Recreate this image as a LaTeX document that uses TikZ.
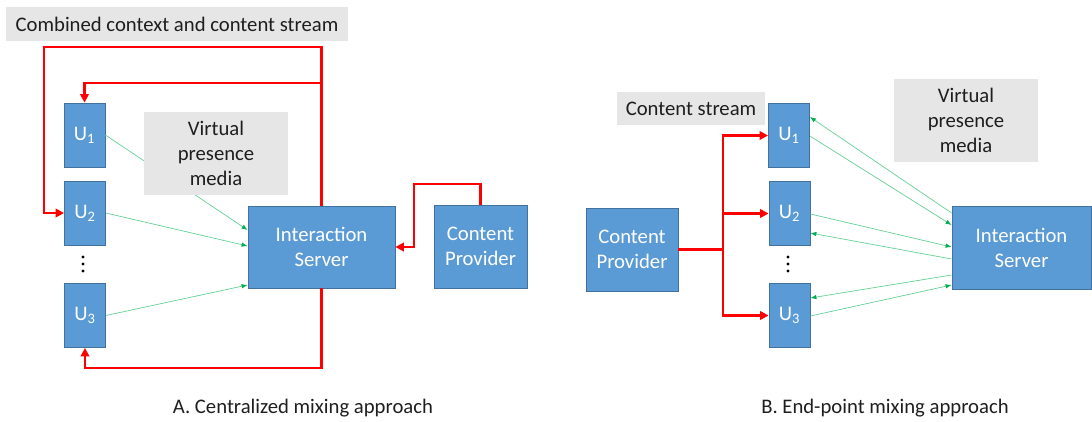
\documentclass[tikz,border=0pt]{standalone}
\usepackage{fontspec}
\setmainfont{Carlito}
\usetikzlibrary{arrows.meta,calc}

\definecolor{boxblue}{RGB}{91,155,213}
\definecolor{boxedge}{RGB}{65,113,156}
\definecolor{labelgray}{RGB}{231,230,230}
\definecolor{flowred}{RGB}{255,0,0}
\definecolor{mediagreen}{RGB}{0,176,80}
\definecolor{inktext}{RGB}{30,30,30}

\tikzset{
  basefont/.style={font=\fontsize{20.7}{25}\selectfont},
  ubox/.style={basefont, draw=boxedge, line width=0.8pt, fill=boxblue, text=white,
    minimum width=41pt, minimum height=64pt, inner sep=0pt},
  bigbox/.style={basefont, draw=boxedge, line width=0.8pt, fill=boxblue, text=white,
    align=center, inner sep=0pt},
  tag/.style={basefont, fill=labelgray, text=inktext, align=center, inner sep=0pt},
  caption/.style={basefont, text=inktext},
  redflow/.style={draw=flowred, line width=2.8pt},
  redtip/.style={-{Triangle[length=8.5pt,width=8.5pt]}},
  mediaflow/.style={draw=mediagreen!60, line width=0.7pt,
    -{Latex[length=6pt,width=4.5pt,color=mediagreen]}},
}

\begin{document}
\begin{tikzpicture}[x=1pt,y=-1pt]
\useasboundingbox (0,0) rectangle (1092,421);

% ---------------- A. centralized mixing ----------------
\node[ubox] (u1A) at (84.5,135) {U\textsubscript{1}};
\node[ubox] (u2A) at (85,213) {U\textsubscript{2}};
\node[ubox] (u3A) at (85,315.5) {U\textsubscript{3}};
\node[bigbox, minimum width=147pt, minimum height=82pt] (srvA) at (321.5,247) {Interaction\\Server};
\node[bigbox, minimum width=93pt, minimum height=83pt] (cpA) at (480.5,246.5) {Content\\Provider};
\node[tag, minimum width=342pt, minimum height=34pt] (streamA) at (177,24) {Combined context and content stream};

% media from the users to the server
\draw[mediaflow] (u1A.east) -- ($(srvA.west)+(0,-17)$);
\draw[mediaflow] (u2A.east) -- ($(srvA.west)+(0,-1)$);
\draw[mediaflow] (u3A.east) -- ($(srvA.west)+(0,38)$);

\node[tag, minimum width=144pt, minimum height=83pt] (vpmA) at (216,153.5) {Virtual\\presence\\media};

% combined stream back to the users
\coordinate (loopA) at (44,47);
\coordinate (teeA) at (0,83);
\coordinate (baseA) at (0,368);
\coordinate (hookA) at (414,184);
\draw[redflow, redtip] (srvA.north) |- (loopA) |- (u2A.west);
\draw[redflow, redtip] (srvA.north |- teeA) -| (u1A.north);
\draw[redflow, redtip] (srvA.south) |- (u3A.south |- baseA) -- (u3A.south);
\draw[redflow, redtip] (cpA.north) |- (hookA) |- (srvA.east);

\foreach \y in {257,264,271} \fill[black] (83,\y) circle (1.6);

\node[caption] (capA) at (303,408) {A. Centralized mixing approach};

% ---------------- B. end-point mixing ----------------
\node[ubox] (u1B) at (789,135.5) {U\textsubscript{1}};
\node[ubox] (u2B) at (789.5,213.5) {U\textsubscript{2}};
\node[ubox] (u3B) at (789.5,315.5) {U\textsubscript{3}};
\node[bigbox, minimum width=92pt, minimum height=83pt] (cpB) at (632,249.5) {Content\\Provider};
\node[bigbox, minimum width=139pt, minimum height=83pt] (srvB) at (1021.5,247.5) {Interaction\\Server};
\node[tag, minimum width=148pt, minimum height=33pt] (streamB) at (691,108.5) {Content stream};
\node[tag, minimum width=144pt, minimum height=83pt] (vpmB) at (966,120.5) {Virtual\\presence\\media};

% content stream fanned out to the users
\coordinate (busB) at (723,0);
\draw[redflow, redtip] (cpB.east) -| (u1B.west -| busB) -- (u1B.west);
\draw[redflow, redtip] (cpB.east) -| (u3B.west -| busB) -- (u3B.west);
\draw[redflow, redtip] (u2B.west -| busB) -- (u2B.west);

% media exchanged between users and server
\draw[mediaflow] ($(srvB.west)+(0,-34.5)$) -- ($(u1B.east)+(0,-18.5)$);
\draw[mediaflow] ($(u1B.east)+(0,0.5)$) -- ($(srvB.west)+(0,-22.5)$);
\draw[mediaflow] ($(u2B.east)+(0,0.5)$) -- ($(srvB.west)+(0,-0.5)$);
\draw[mediaflow] ($(srvB.west)+(0,11.5)$) -- ($(u2B.east)+(0,19.5)$);
\draw[mediaflow] ($(srvB.west)+(0,27.5)$) -- ($(u3B.east)+(0,-17.5)$);
\draw[mediaflow] ($(u3B.east)+(0,0.5)$) -- ($(srvB.west)+(0,37.5)$);

\foreach \y in {257,264,271} \fill[black] (788,\y) circle (1.6);

\node[caption] (capB) at (885,408) {B. End-point mixing approach};
\end{tikzpicture}
\end{document}
